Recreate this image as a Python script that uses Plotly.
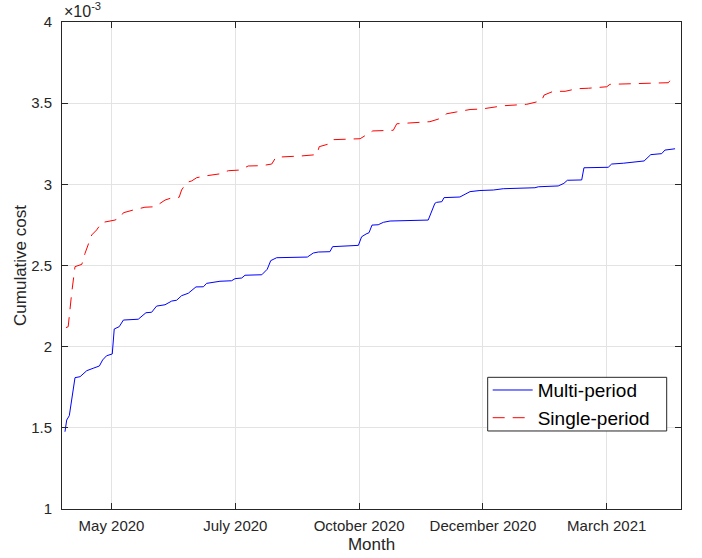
import plotly.graph_objects as go

# x: trading-day index; y: cumulative cost in units of 1e-3
multi_day = [1.2, 1.9, 2.95, 5.25, 7.3, 10.0, 12.6, 15.1, 16.4, 18.0, 20.3, 21.1, 23.1, 24.8, 30.8,
             33.9, 36.2, 38.2, 41.6, 44.3, 46.3, 48.3, 51.0, 54.1, 57.1, 58.4, 63.8, 68.5, 69.9,
             72.6, 73.9, 80.7, 82.9, 84.3, 86.7, 99.1, 101.5, 103.5, 108.2, 109.3, 119.7, 121.0,
             122.8, 124.0, 125.2, 127.7, 129.8, 132.5, 147.9, 150.6, 151.3, 153.4, 154.3, 160.7,
             162.8, 164.8, 168.8, 174.2, 178.2, 191.0, 192.4, 200.4, 202.7, 204.1, 209.9, 210.8,
             220.6, 222.0, 226.7, 231.4, 235.1, 237.8, 242.2, 243.5, 247.6]
multi_cost = [1.476, 1.548, 1.575, 1.809, 1.815, 1.852, 1.867, 1.881, 1.918, 1.944, 1.955, 2.109,
              2.123, 2.164, 2.169, 2.209, 2.212, 2.250, 2.258, 2.281, 2.286, 2.314, 2.329, 2.368,
              2.369, 2.390, 2.403, 2.406, 2.419, 2.423, 2.440, 2.443, 2.477, 2.530, 2.548, 2.552,
              2.577, 2.583, 2.585, 2.616, 2.624, 2.677, 2.694, 2.702, 2.749, 2.751, 2.766, 2.774,
              2.780, 2.883, 2.889, 2.893, 2.918, 2.922, 2.939, 2.955, 2.962, 2.965, 2.973, 2.979,
              2.985, 2.990, 3.006, 3.025, 3.027, 3.102, 3.105, 3.125, 3.130, 3.139, 3.144, 3.183,
              3.189, 3.211, 3.219]

single_day = [1.6, 2.5, 3.9, 5.25, 8.0, 9.3, 12.0, 14.0, 16.0, 18.05, 21.4, 23.4, 24.8, 28.8, 33.5,
              37.6, 39.6, 41.6, 44.95, 47.3, 48.3, 50.4, 52.4, 54.4, 58.4, 63.5, 67.2, 71.9, 75.2,
              80.7, 84.7, 86.4, 96.8, 102.9, 103.9, 107.6, 109.3, 120.4, 125.5, 133.8, 135.2,
              144.6, 148.6, 152.0, 155.4, 159.4, 164.8, 169.5, 178.2, 187.7, 191.7, 193.7, 194.7,
              198.4, 203.2, 207.9, 212.6, 220.0, 221.3, 230.1, 238.8, 244.9, 246.2, 247.9]
single_cost = [2.117, 2.123, 2.329, 2.493, 2.507, 2.575, 2.688, 2.719, 2.764, 2.770, 2.780, 2.794,
               2.825, 2.842, 2.859, 2.862, 2.883, 2.903, 2.920, 2.920, 2.965, 3.012, 3.021, 3.041,
               3.053, 3.064, 3.084, 3.088, 3.113, 3.115, 3.125, 3.167, 3.175, 3.183, 3.232, 3.248,
               3.275, 3.281, 3.329, 3.333, 3.373, 3.380, 3.386, 3.402, 3.435, 3.446, 3.461, 3.464,
               3.484, 3.493, 3.505, 3.515, 3.550, 3.573, 3.573, 3.589, 3.592, 3.601, 3.616, 3.618,
               3.622, 3.626, 3.651, 3.653]

tick_days = [20, 70, 120, 170, 220]
tick_labels = ["May 2020", "July 2020", "October 2020", "December 2020", "March 2021"]

FONT = "Liberation Sans, Arial, Helvetica, sans-serif"
AX = "#262626"

fig = go.Figure()
fig.add_trace(go.Scatter(x=multi_day, y=multi_cost, mode="lines", name="Multi-period",
                         line=dict(color="#0000ff", width=1)))
fig.add_trace(go.Scatter(x=single_day, y=single_cost, mode="lines", name="Single-period",
                         line=dict(color="#ff0000", width=1, dash="12px,8px")))

axis_common = dict(showline=True, linecolor=AX, linewidth=1, mirror="allticks",
                   ticks="inside", ticklen=6, tickcolor=AX, showgrid=True,
                   gridcolor="#e3e3e3", gridwidth=1, zeroline=False, automargin=False,
                   tickfont=dict(family=FONT, size=15, color=AX))

fig.update_layout(
    width=702, height=558,
    margin=dict(l=62, r=21, t=22, b=49, autoexpand=False),
    paper_bgcolor="white", plot_bgcolor="white",
    font=dict(family=FONT, color=AX),
    xaxis=dict(range=[0, 250], tickvals=tick_days, ticktext=tick_labels, ticklabelstandoff=3,
               title=dict(text="Month", font=dict(family=FONT, size=17, color=AX), standoff=5),
               **axis_common),
    yaxis=dict(range=[1, 4], dtick=0.5, tick0=1, ticklabelstandoff=6,
               title=dict(text="Cumulative cost", font=dict(family=FONT, size=17, color=AX), standoff=0),
               **axis_common),
    legend=dict(x=0.6877, y=0.2153, xanchor="left", yanchor="middle",
                bgcolor="rgba(0,0,0,0)", borderwidth=0,
                font=dict(family=FONT, size=19, color="black"),
                tracegroupgap=0, itemwidth=40),
    showlegend=True,
    shapes=[dict(type="rect", xref="paper", yref="paper", x0=0.6877, x1=0.9769,
                 y0=0.1602, y1=0.2704, fillcolor="white", line=dict(color=AX, width=1),
                 layer="above")],
    annotations=[dict(text="×10<sup>-3</sup>", xref="paper", yref="paper", x=0, y=1,
                      xanchor="left", yanchor="bottom", showarrow=False,
                      font=dict(family=FONT, size=16, color=AX))],
)

fig.write_html("out.html", config={"displayModeBar": False},
               post_script="document.body.style.margin='0';document.body.style.overflow='hidden';")
